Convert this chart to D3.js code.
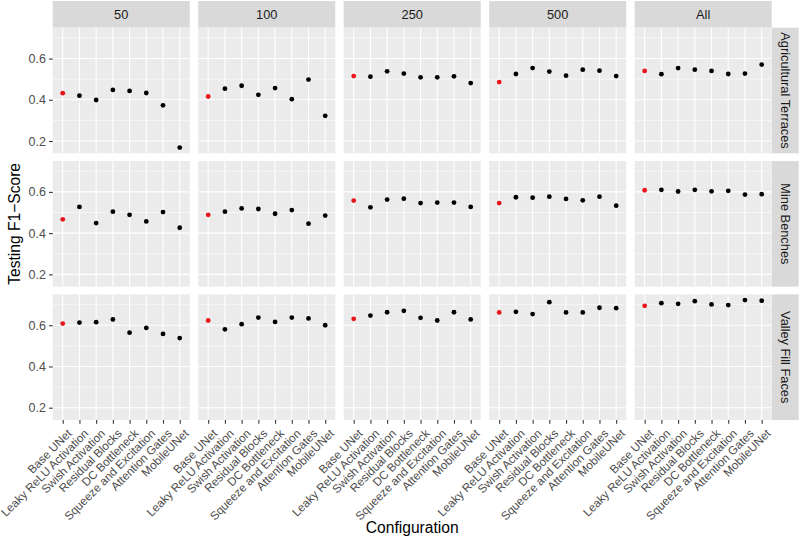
<!DOCTYPE html>
<html>
<head>
<meta charset="utf-8">
<script src="https://cdn.jsdelivr.net/npm/d3@7"></script>
<style>
  body { margin: 0; background: #fff; }
  svg { display: block; font-family: "Liberation Sans", Arial, sans-serif; }
</style>
</head>
<body>
<svg id="chart" width="800" height="537"></svg>
<script>
// Facets and categories
const configs = ["Base UNet", "Leaky ReLU Activation", "Swish Activation", "Residual Blocks",
  "DC Bottleneck", "Squeeze and Excitation", "Attention Gates", "MobileUNet"];
const sampleSizes = ["50", "100", "250", "500", "All"];
const featureTypes = ["Agricultural Terraces", "Mine Benches", "Valley Fill Faces"];
const yTicks = [0.2, 0.4, 0.6];
const yMinor = [0.3, 0.5, 0.7];

// Testing F1-score per sample size (one inner array per column: 50, 100, 250, 500, All)
const agTerraces = [
  [0.432, 0.420, 0.399, 0.448, 0.443, 0.433, 0.373, 0.168],
  [0.416, 0.454, 0.468, 0.424, 0.457, 0.403, 0.498, 0.322],
  [0.515, 0.512, 0.538, 0.527, 0.509, 0.509, 0.514, 0.481],
  [0.486, 0.525, 0.554, 0.537, 0.517, 0.546, 0.541, 0.515],
  [0.540, 0.524, 0.554, 0.546, 0.540, 0.525, 0.527, 0.571]
];
const mineBenches = [
  [0.467, 0.527, 0.449, 0.504, 0.489, 0.457, 0.502, 0.426],
  [0.489, 0.504, 0.520, 0.517, 0.494, 0.512, 0.446, 0.485],
  [0.558, 0.525, 0.563, 0.567, 0.546, 0.548, 0.548, 0.527],
  [0.546, 0.574, 0.572, 0.577, 0.566, 0.559, 0.577, 0.533],
  [0.608, 0.610, 0.602, 0.610, 0.603, 0.605, 0.587, 0.589]
];
const valleyFill = [
  [0.608, 0.613, 0.615, 0.628, 0.564, 0.587, 0.558, 0.538],
  [0.623, 0.580, 0.605, 0.637, 0.616, 0.637, 0.633, 0.600],
  [0.631, 0.647, 0.663, 0.670, 0.636, 0.623, 0.663, 0.628],
  [0.662, 0.665, 0.654, 0.712, 0.662, 0.662, 0.685, 0.683],
  [0.694, 0.707, 0.704, 0.717, 0.701, 0.698, 0.722, 0.719]
];
const rowsData = [agTerraces, mineBenches, valleyFill];

function drawChart() {
    const svg = d3.select("#chart");
    svg.selectAll("*").remove();

    // Panel area
    const left = 52.7, right = 771.7, top = 27.7, bottom = 420;
    const stripH = 26.7, stripW = 27;
    const stripFont = "12.8px", yFont = "12.5px", xFont = "11.7px";

    const col = d3.scaleBand().domain(sampleSizes).range([left, right]).paddingInner(0.058);
    const row = d3.scaleBand().domain(featureTypes).range([top, bottom]).paddingInner(0.058);

    const x = d3.scalePoint().domain(configs).range([0, col.bandwidth()]).padding(0.6);

    const allVals = rowsData.flat(2);
    const lo = d3.min(allVals), hi = d3.max(allVals), pad = (hi - lo) * 0.05;
    const y = d3.scaleLinear().domain([lo - pad, hi + pad]).range([row.bandwidth(), 0]);

    // Top strips
    sampleSizes.forEach(s => {
        svg.append("rect")
            .attr("x", col(s)).attr("y", top - stripH)
            .attr("width", col.bandwidth()).attr("height", stripH)
            .attr("fill", "#d9d9d9");
        svg.append("text")
            .attr("x", col(s) + col.bandwidth() / 2).attr("y", top - stripH / 2)
            .attr("dy", "0.35em").attr("text-anchor", "middle")
            .attr("font-size", stripFont).attr("fill", "#1a1a1a")
            .text(s);
    });

    // Right strips
    featureTypes.forEach(f => {
        svg.append("rect")
            .attr("x", right).attr("y", row(f))
            .attr("width", stripW).attr("height", row.bandwidth())
            .attr("fill", "#d9d9d9");
        const cx = right + stripW / 2, cy = row(f) + row.bandwidth() / 2;
        svg.append("text")
            .attr("transform", `translate(${cx},${cy}) rotate(90)`)
            .attr("dy", "0.35em").attr("text-anchor", "middle")
            .attr("font-size", stripFont).attr("fill", "#1a1a1a")
            .text(f);
    });

    // Panels
    featureTypes.forEach((f, ri) => {
        sampleSizes.forEach((s, ci) => {
            const g = svg.append("g").attr("transform", `translate(${col(s)},${row(f)})`);
            g.append("rect")
                .attr("width", col.bandwidth()).attr("height", row.bandwidth())
                .attr("fill", "#ebebeb");

            g.selectAll(".minor").data(yMinor.filter(v => v > y.domain()[0] && v < y.domain()[1]))
                .enter().append("line")
                .attr("x1", 0).attr("x2", col.bandwidth())
                .attr("y1", d => y(d)).attr("y2", d => y(d))
                .attr("stroke", "#fff").attr("stroke-width", 0.55);

            g.selectAll(".major").data(yTicks)
                .enter().append("line")
                .attr("x1", 0).attr("x2", col.bandwidth())
                .attr("y1", d => y(d)).attr("y2", d => y(d))
                .attr("stroke", "#fff").attr("stroke-width", 1.1);

            g.selectAll(".vgrid").data(configs)
                .enter().append("line")
                .attr("x1", d => x(d)).attr("x2", d => x(d))
                .attr("y1", 0).attr("y2", row.bandwidth())
                .attr("stroke", "#fff").attr("stroke-width", 1.1);

            const vals = rowsData[ri][ci];
            g.selectAll("circle").data(configs)
                .enter().append("circle")
                .attr("cx", d => x(d))
                .attr("cy", (d, i) => y(vals[i]))
                .attr("r", 2.4)
                .attr("fill", (d, i) => i === 0 ? "#e8161b" : "#000");

            // Y axis on first column
            if (ci === 0) {
                const ay = g.append("g").call(d3.axisLeft(y).tickValues(yTicks).tickFormat(d3.format(".1f")).tickSize(3.7).tickPadding(3));
                ay.select(".domain").remove();
                ay.selectAll(".tick line").attr("stroke", "#333").attr("stroke-width", 1.1);
                ay.selectAll(".tick text").attr("fill", "#4d4d4d").attr("font-size", yFont)
                    .attr("font-family", "Liberation Sans, Arial, sans-serif");
            }

            // X axis on bottom row
            if (ri === featureTypes.length - 1) {
                const ax = g.append("g").attr("transform", `translate(0,${row.bandwidth()})`)
                    .call(d3.axisBottom(x).tickSize(3.7).tickPadding(3));
                ax.select(".domain").remove();
                ax.selectAll(".tick line").attr("stroke", "#333").attr("stroke-width", 1.1);
                ax.selectAll(".tick text")
                    .attr("fill", "#4d4d4d").attr("font-size", xFont)
                    .attr("font-family", "Liberation Sans, Arial, sans-serif")
                    .attr("text-anchor", "end")
                    .attr("x", 0).attr("y", 0).attr("dy", "0.75em")
                    .attr("transform", "translate(3,8) rotate(-45)");
            }
        });
    });

    // Axis titles
    svg.append("text")
        .attr("x", (left + right) / 2).attr("y", 533)
        .attr("text-anchor", "middle").attr("font-size", "15.6px").attr("fill", "#000")
        .text("Configuration");

    svg.append("text")
        .attr("transform", `translate(19.5,${(top + bottom) / 2}) rotate(-90)`)
        .attr("text-anchor", "middle").attr("font-size", "15.6px").attr("fill", "#000")
        .text("Testing F1\u2212Score");
}

drawChart();
</script>
</body>
</html>
